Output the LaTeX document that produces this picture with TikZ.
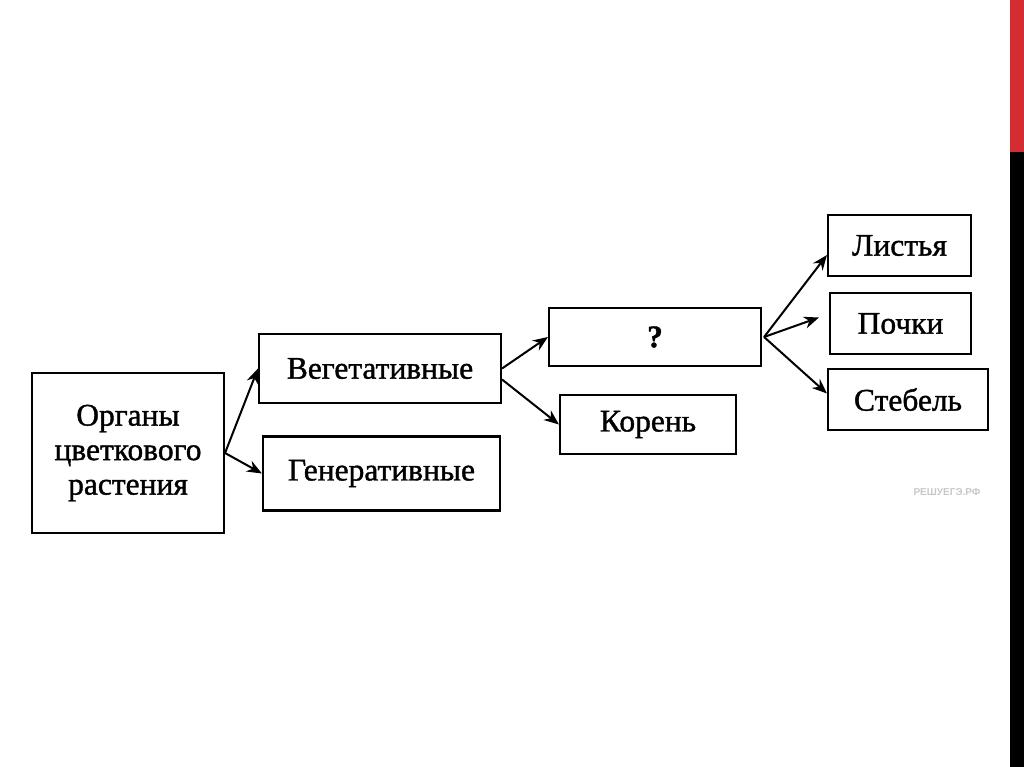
\documentclass[tikz,border=0pt]{standalone}
\usepackage{fontspec}
\setmainfont{Liberation Serif}[FakeBold=1.2]
\newfontfamily\wmfont{Liberation Sans}
\usetikzlibrary{arrows.meta}
\definecolor{barred}{RGB}{211,45,50}
\definecolor{wmgray}{RGB}{200,200,200}
\tikzset{
  box/.style={draw=black, line width=2.1pt, rectangle, inner sep=0pt, align=center,
    font=\fontsize{31.5}{34.5}\selectfont},
  arr/.style={-{Stealth[length=15pt,width=12pt]}, line width=2pt}
}
\begin{document}
\begin{tikzpicture}[x=1pt,y=-1pt]
\useasboundingbox[fill=white] (0,0) rectangle (1024,767);
\fill[barred] (1010,0) rectangle (1024,152);
\fill[black] (1010,152) rectangle (1024,767);

\node[box, minimum width=192pt, minimum height=160pt] (org) at (128,453) {Органы\\цветкового\\растения};
\node[box, minimum width=242pt, minimum height=69pt] (veg) at (380,368.5) {Вегетативные};
\node[box, minimum width=237pt, minimum height=74pt] (gen) at (381.5,473.5) {Генеративные};
\node[box, minimum width=212pt, minimum height=58pt] (q) at (655,337) {\textbf{?}};
\node[box, minimum width=176pt, minimum height=59pt] (kor) at (648,424.5) {Корень};
\node[box, minimum width=143pt, minimum height=61pt] (lis) at (899.5,245.5) {Листья};
\node[box, minimum width=141pt, minimum height=61pt] (poc) at (900.5,323.5) {Почки};
\node[box, minimum width=160pt, minimum height=61pt] (ste) at (908,399.5) {Стебель};

\node[text=wmgray, font=\wmfont\bfseries\fontsize{10}{11}\selectfont] (wm) at (947,492) {РЕШУЕГЭ.РФ};

\draw[arr] (org.east) -- (veg.west);
\draw[arr] (org.east) -- (gen.west);
\draw[arr] (veg.east) -- (q.west);
\draw[arr] ([yshift=-11pt]veg.east) -- (kor.west);
\draw[arr] ([xshift=2pt]q.east) -- ([yshift=-9.5pt]lis.west);
\draw[arr] ([xshift=2pt]q.east) -- ([xshift=-10pt,yshift=6pt]poc.west);
\draw[arr] ([xshift=2pt]q.east) -- ([yshift=6pt]ste.west);
\end{tikzpicture}
\end{document}
